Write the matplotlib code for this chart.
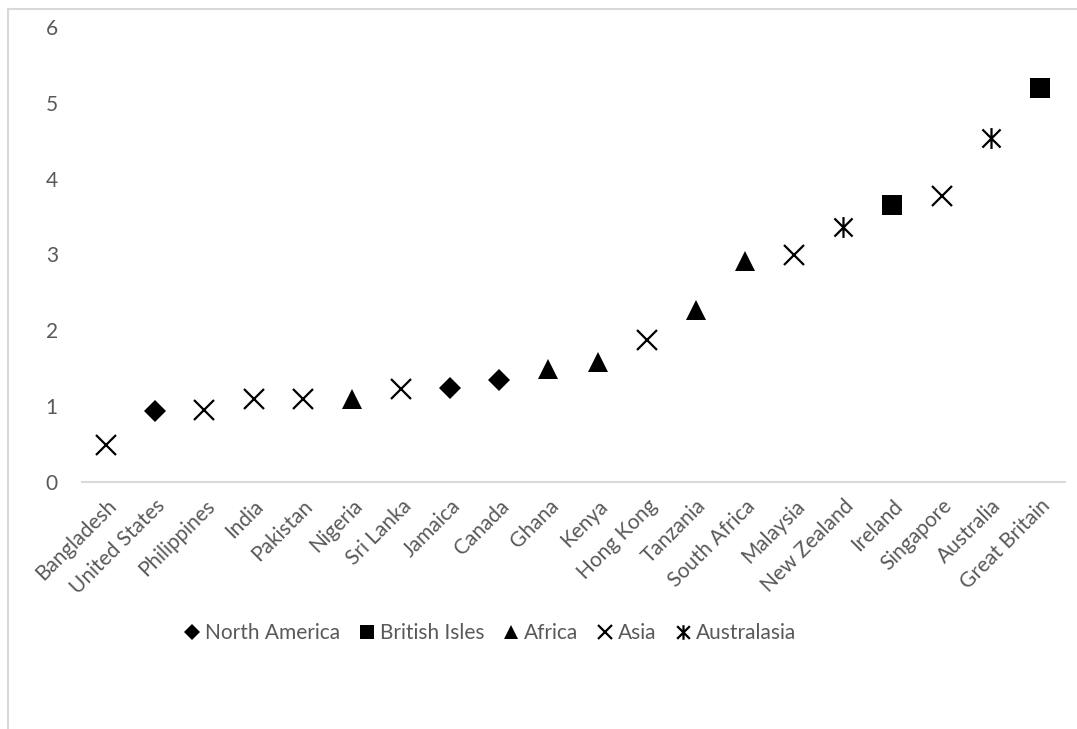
"""Scatter of values by country, marker shape by region (Excel style)"""
import numpy as np
import matplotlib
matplotlib.use("Agg")
import matplotlib.pyplot as plt
from matplotlib.path import Path
from matplotlib.lines import Line2D

countries = ["Bangladesh", "United States", "Philippines", "India", "Pakistan",
             "Nigeria", "Sri Lanka", "Jamaica", "Canada", "Ghana", "Kenya",
             "Hong Kong", "Tanzania", "South Africa", "Malaysia", "New Zealand",
             "Ireland", "Singapore", "Australia", "Great Britain"]
values = [0.49, 0.94, 0.95, 1.10, 1.10, 1.10, 1.23, 1.24, 1.35, 1.49, 1.58,
          1.87, 2.27, 2.91, 3.00, 3.36, 3.65, 3.77, 4.54, 5.20]
regions = ["Asia", "North America", "Asia", "Asia", "Asia",
           "Africa", "Asia", "North America", "North America", "Africa", "Africa",
           "Asia", "Africa", "Africa", "Asia", "Australasia",
           "British Isles", "Asia", "Australasia", "British Isles"]
region_order = ["North America", "British Isles", "Africa", "Asia", "Australasia"]
y_ticks = [0, 1, 2, 3, 4, 5, 6]

# x with a vertical stroke through it
star = Path([(-1, -1), (1, 1), (-1, 1), (1, -1), (0, -1.15), (0, 1.15)],
            [Path.MOVETO, Path.LINETO, Path.MOVETO, Path.LINETO,
             Path.MOVETO, Path.LINETO])
markers = {"North America": ("D", 11, "black", 1.0),
           "British Isles": ("s", 14, "black", 1.0),
           "Africa":        ("^", 15, "black", 1.0),
           "Asia":          ("x", 14, "none", 1.6),
           "Australasia":   (star, 15, "none", 1.6)}

grey = "#595959"
plt.rcParams["font.family"] = ["Lato", "DejaVu Sans"]

fig = plt.figure(figsize=(10.77, 7.29), dpi=100)
ax = fig.add_axes([81.5 / 1077, 247 / 729, 983 / 1077, 455 / 729])

x = np.arange(len(countries))
vals = np.array(values)
regs = np.array(regions)
for reg in region_order:
    m, ms, fc, lw = markers[reg]
    sel = regs == reg
    ax.plot(x[sel], vals[sel], linestyle="none", marker=m, markersize=ms,
            markerfacecolor=fc, markeredgecolor="black",
            markeredgewidth=lw if fc == "none" else 0, label=reg)

ax.set_xlim(-0.5, len(countries) - 0.5)
ax.set_ylim(0, 6)
ax.set_yticks(y_ticks)
ax.set_xticks(x)
ax.set_xticklabels(countries, rotation=45, ha="right", va="top",
                   rotation_mode="anchor")
ax.tick_params(axis="x", length=0, pad=10, labelsize=15, labelcolor=grey)
ax.tick_params(axis="y", length=0, pad=17, labelsize=15, labelcolor=grey)
for s in ["top", "right", "left"]:
    ax.spines[s].set_visible(False)
ax.spines["bottom"].set_color("#d9d9d9")
ax.spines["bottom"].set_linewidth(1.5)

leg = fig.legend(loc="center", bbox_to_anchor=(489 / 1077, 96 / 729), ncol=5,
                 frameon=False, fontsize=15, markerscale=0.7,
                 handletextpad=0.1, columnspacing=0.8, handlelength=1.0)
for t in leg.get_texts():
    t.set_color(grey)

# chart-area border, only top and left edges visible
fig.add_artist(Line2D([8 / 1077, 1], [1 - 9 / 729, 1 - 9 / 729],
                      transform=fig.transFigure, color="#d9d9d9", lw=1.5))
fig.add_artist(Line2D([8 / 1077, 8 / 1077], [0, 1 - 9 / 729],
                      transform=fig.transFigure, color="#d9d9d9", lw=1.5))

fig.savefig("out.png", dpi=100)
